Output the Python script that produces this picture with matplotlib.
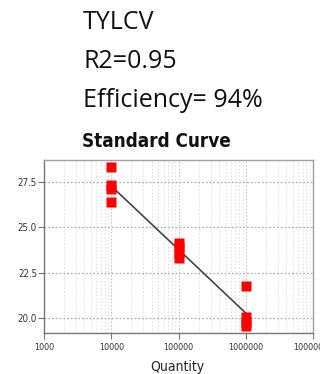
import numpy as np
import matplotlib
matplotlib.use("Agg")
import matplotlib.pyplot as plt
from matplotlib.ticker import FixedLocator, LogLocator, NullFormatter
from matplotlib import font_manager

# Standard-curve replicates: template quantity vs. Ct
quantity = [1e4, 1e4, 1e4, 1e4,
            1e5, 1e5, 1e5, 1e5,
            1e6, 1e6, 1e6, 1e6]
ct = [28.33, 27.33, 27.11, 26.42,
      24.15, 23.90, 23.60, 23.31,
      21.76, 20.05, 19.80, 19.55]

y_ticks = [20.0, 22.5, 25.0, 27.5]
y_tick_labels = ["20.0", "22.5", "25.0", "27.5"]
x_ticks = [1e3, 1e4, 1e5, 1e6, 1e7]
x_tick_labels = ["1000", "10000", "100000", "1000000", "10000000"]

header_lines = ["TYLCV", "R2=0.95", "Efficiency= 94%"]
title = "Standard Curve"
x_label = "Quantity"

installed = {f.name for f in font_manager.fontManager.ttflist}
narrow_name = next((n for n in ["Liberation Sans Narrow", "DejaVu Sans Condensed"]
                    if n in installed), "DejaVu Sans")
narrow = [narrow_name, "DejaVu Sans"]
narrow_kw = dict(family=narrow, stretch="condensed")

W, H = 320, 374
fig = plt.figure(figsize=(W / 100, H / 100), dpi=100)
fig.patch.set_facecolor("white")

ax = fig.add_axes([44 / W, (H - 333) / H, (313 - 44) / W, (333 - 160) / H])
ax.set_xscale("log")
ax.set_xlim(1e3, 1e7)
ax.set_ylim(19.173, 28.713)

# least-squares fit of Ct against log10(quantity)
logq = np.log10(quantity)
slope, intercept = np.polyfit(logq, ct, 1)
fit_x = np.array([1e4, 1e6])
fit_y = slope * np.log10(fit_x) + intercept
ax.plot(fit_x, fit_y, color="#444444", lw=1.2, zorder=2)

ax.plot(quantity, ct, linestyle="none", marker="s", ms=7.4,
        mfc="#ff0000", mec="none", zorder=3)

# grid: dotted majors, faint dotted minors on the log axis
ax.xaxis.set_major_locator(FixedLocator(x_ticks))
ax.xaxis.set_minor_locator(LogLocator(base=10, subs=np.arange(2, 10)))
ax.xaxis.set_minor_formatter(NullFormatter())
ax.set_xticklabels(x_tick_labels, fontsize=6.5, color="#333333", **narrow_kw)
ax.set_yticks(y_ticks)
ax.set_yticklabels(y_tick_labels, fontsize=7, color="#333333", **narrow_kw)
ax.grid(True, which="major", axis="y", color="#b0b0b0", ls=(0, (1.5, 1.5)), lw=0.9)
ax.grid(True, which="major", axis="x", color="#c8c8c8", ls=(0, (1.5, 1.5)), lw=0.8)
ax.grid(True, which="minor", axis="x", color="#dedede", ls=(0, (1.5, 2)), lw=0.7)
ax.set_axisbelow(True)

ax.tick_params(axis="both", which="major", length=4, width=0.8, color="#777777", pad=1)
ax.tick_params(axis="x", which="minor", length=0)
ax.tick_params(axis="x", which="major", pad=3)
for side in ["left", "bottom"]:
    ax.spines[side].set_color("#777777")
    ax.spines[side].set_linewidth(1.0)
for side in ["top", "right"]:
    ax.spines[side].set_color("#a0a0a0")
    ax.spines[side].set_linewidth(1.0)

fig.text(177 / W, (H - 371) / H, x_label, fontsize=10, ha="center",
         va="baseline", color="#222222", **narrow_kw)
fig.text(156 / W, (H - 147) / H, title, fontsize=13.5, fontweight="bold",
         ha="center", va="baseline", color="#111111", **narrow_kw)

baselines = [29, 68, 107]
for text, b in zip(header_lines, baselines):
    fig.text(83 / W, (H - b) / H, text, family=["Open Sans", "DejaVu Sans"],
             fontsize=18, ha="left", va="baseline", color="#111111")

fig.savefig("out.png", dpi=100, facecolor="white")
